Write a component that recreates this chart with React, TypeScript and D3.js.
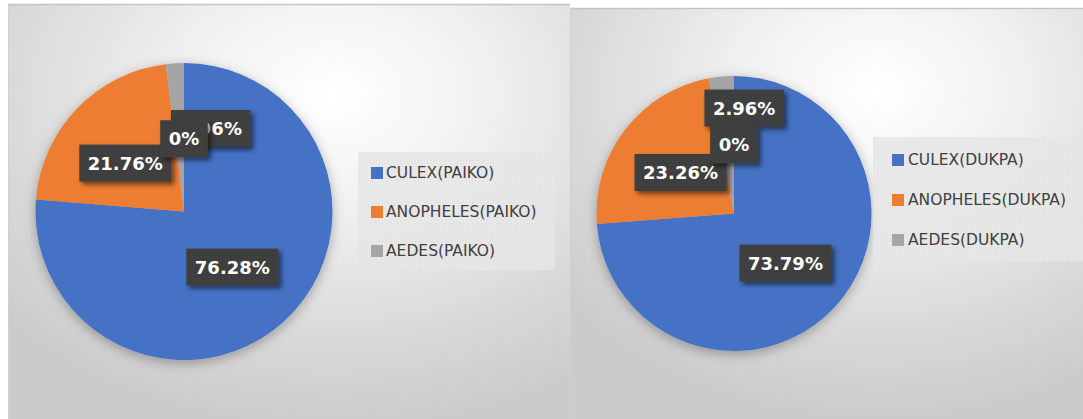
import React, { useEffect, useRef } from "react";
import * as d3 from "d3";

const categoriesPaiko = ["CULEX(PAIKO)", "ANOPHELES(PAIKO)", "AEDES(PAIKO)"];
const valuesPaiko = [76.28, 21.76, 1.96, 0];
const categoriesDukpa = ["CULEX(DUKPA)", "ANOPHELES(DUKPA)", "AEDES(DUKPA)"];
const valuesDukpa = [73.79, 23.26, 2.96, 0];
const sliceColors = ["#4472C4", "#ED7D31", "#A5A5A5", "#FFC000"];

type PanelCfg = {
  id: string;
  panel: { x: number; y: number; w: number; h: number };
  grad: { cx: number; cy: number; r: number };
  cx: number;
  cy: number;
  r: number;
  values: number[];
  categories: string[];
  labelR: number[];
  nudge: [number, number][];
  legend: { x: number; y: number; w: number; h: number; sqX: number; firstY: number; step: number; textX: number };
};

const panels: PanelCfg[] = [
  {
    id: "paiko",
    panel: { x: 8, y: 4, w: 562, h: 415 },
    grad: { cx: 0.58, cy: 0.22, r: 0.8 },
    cx: 184,
    cy: 211.5,
    r: 148.5,
    values: valuesPaiko,
    categories: categoriesPaiko,
    labelR: [0.5, 0.51, 0.58, 0.49],
    nudge: [[-2, 1], [-4, 4], [32, 3], [0, 0]],
    legend: { x: 358, y: 152, w: 197, h: 118, sqX: 371, firstY: 173, step: 39, textX: 386 },
  },
  {
    id: "dukpa",
    panel: { x: 570, y: 8, w: 513, h: 411 },
    grad: { cx: 0.6, cy: 0.2, r: 0.8 },
    cx: 734,
    cy: 213.5,
    r: 137.5,
    values: valuesDukpa,
    categories: categoriesDukpa,
    labelR: [0.52, 0.49, 0.77, 0.5],
    nudge: [[-1, 1], [0, 0], [20, 0], [0, 0]],
    legend: { x: 873, y: 137, w: 215, h: 124, sqX: 892, firstY: 160, step: 40, textX: 908 },
  },
];

const fmt = (v: number) => (v === 0 ? "0%" : v.toFixed(2) + "%");

export default function App() {
  const ref = useRef<SVGSVGElement | null>(null);

  useEffect(() => {
    const svg = d3.select(ref.current);
    svg.selectAll("*").remove();
    const defs = svg.append("defs");

    const pat = defs
      .append("pattern")
      .attr("id", "dots")
      .attr("width", 4)
      .attr("height", 4)
      .attr("patternUnits", "userSpaceOnUse");
    pat.append("rect").attr("width", 4).attr("height", 4).attr("fill", "#3d3d3d");
    pat.append("circle").attr("cx", 1).attr("cy", 1).attr("r", 0.7).attr("fill", "#4a4a4a");
    pat.append("circle").attr("cx", 3).attr("cy", 3).attr("r", 0.7).attr("fill", "#454545");

    const lpat = defs
      .append("pattern")
      .attr("id", "ldots")
      .attr("width", 3)
      .attr("height", 3)
      .attr("patternUnits", "userSpaceOnUse");
    lpat.append("rect").attr("width", 3).attr("height", 3).attr("fill", "#e7e7e7");
    lpat.append("rect").attr("x", 1).attr("y", 1).attr("width", 1).attr("height", 1).attr("fill", "#dcdcdc");

    const pieShadow = defs.append("filter").attr("id", "pieShadow").attr("x", "-20%").attr("y", "-20%").attr("width", "140%").attr("height", "140%");
    pieShadow
      .append("feDropShadow")
      .attr("dx", 0)
      .attr("dy", 3)
      .attr("stdDeviation", 6)
      .attr("flood-color", "#000")
      .attr("flood-opacity", 0.3);

    const boxShadow = defs.append("filter").attr("id", "boxShadow").attr("x", "-20%").attr("y", "-20%").attr("width", "150%").attr("height", "160%");
    boxShadow
      .append("feDropShadow")
      .attr("dx", 3)
      .attr("dy", 3)
      .attr("stdDeviation", 2.5)
      .attr("flood-color", "#000")
      .attr("flood-opacity", 0.55);

    panels.forEach((p) => {
      const g = defs
        .append("radialGradient")
        .attr("id", "bg-" + p.id)
        .attr("cx", p.grad.cx)
        .attr("cy", p.grad.cy)
        .attr("r", p.grad.r);
      g.append("stop").attr("offset", 0).attr("stop-color", "#ffffff");
      g.append("stop").attr("offset", 0.35).attr("stop-color", "#f0f0f0");
      g.append("stop").attr("offset", 0.75).attr("stop-color", "#d8d8d8");
      g.append("stop").attr("offset", 1).attr("stop-color", "#cbcbcb");
    });

    panels.forEach((p) => {
      const root = svg.append("g");
      root
        .append("rect")
        .attr("x", p.panel.x)
        .attr("y", p.panel.y)
        .attr("width", p.panel.w)
        .attr("height", p.panel.h)
        .attr("fill", `url(#bg-${p.id})`);
      root
        .append("line")
        .attr("x1", p.panel.x)
        .attr("x2", p.panel.x + p.panel.w)
        .attr("y1", p.panel.y + 0.5)
        .attr("y2", p.panel.y + 0.5)
        .attr("stroke", "#c4c4c4")
        .attr("stroke-width", 1.5);
      root
        .append("line")
        .attr("x1", p.panel.x + 0.5)
        .attr("x2", p.panel.x + 0.5)
        .attr("y1", p.panel.y)
        .attr("y2", p.panel.y + p.panel.h)
        .attr("stroke", "#d0d0d0")
        .attr("stroke-width", 1);

      const pie = d3
        .pie<number>()
        .sort(null)
        .value((d) => d)
        .startAngle(0)
        .endAngle(2 * Math.PI);
      const arcs = pie(p.values);
      const arc = d3.arc<d3.PieArcDatum<number>>().innerRadius(0).outerRadius(p.r);

      const pg = root.append("g").attr("transform", `translate(${p.cx},${p.cy})`).attr("filter", "url(#pieShadow)");
      pg.selectAll("path")
        .data(arcs.filter((a) => a.value > 0))
        .join("path")
        .attr("d", arc)
        .attr("fill", (d) => sliceColors[d.index]);

      // labels
      arcs.forEach((a, i) => {
        const mid = (a.startAngle + a.endAngle) / 2;
        const rr = p.r * p.labelR[i];
        const x = p.cx + Math.sin(mid) * rr + p.nudge[i][0];
        const y = p.cy - Math.cos(mid) * rr + p.nudge[i][1];
        const lg = root.append("g");
        const rect = lg.append("rect").attr("fill", "url(#dots)").attr("filter", "url(#boxShadow)");
        const t = lg
          .append("text")
          .attr("x", x)
          .attr("y", y)
          .attr("text-anchor", "middle")
          .attr("dominant-baseline", "central")
          .attr("font-family", "DejaVu Sans")
          .attr("font-weight", "bold")
          .attr("font-size", 18)
          .attr("fill", "#ffffff")
          .text(fmt(a.value));
        const w = (t.node() as SVGTextElement).getComputedTextLength();
        const bw = w + 17;
        const bh = 37;
        rect.attr("x", x - bw / 2).attr("y", y - bh / 2).attr("width", bw).attr("height", bh);
      });

      // legend
      const L = p.legend;
      const lg = root.append("g");
      lg.append("rect").attr("x", L.x).attr("y", L.y).attr("width", L.w).attr("height", L.h).attr("fill", "url(#ldots)").attr("opacity", 0.85);
      p.categories.forEach((c, i) => {
        const cy = L.firstY + i * L.step;
        lg.append("rect")
          .attr("x", L.sqX)
          .attr("y", cy - 6)
          .attr("width", 12)
          .attr("height", 12)
          .attr("fill", sliceColors[i]);
        lg.append("text")
          .attr("x", L.textX)
          .attr("y", cy)
          .attr("dominant-baseline", "central")
          .attr("font-family", "DejaVu Sans")
          .attr("font-size", 15.5)
          .attr("fill", "#404040")
          .text(c);
      });
    });
  }, []);

  return (
    <svg
      ref={ref}
      width={1083}
      height={419}
      style={{ position: "fixed", left: 0, top: 0, background: "#ffffff" }}
    />
  );
}
